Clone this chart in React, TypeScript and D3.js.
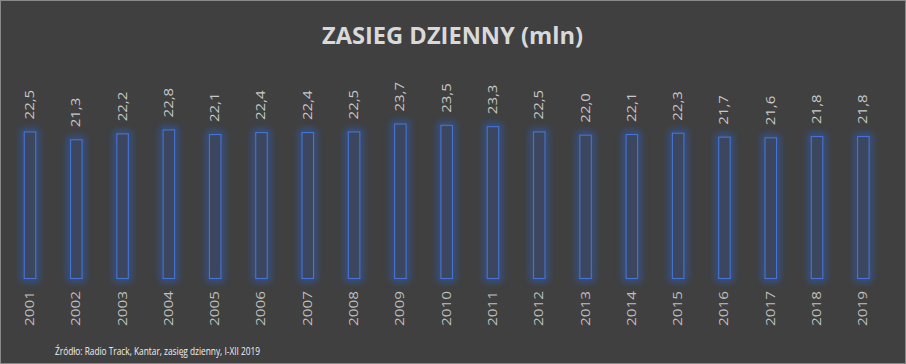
import React from "react";
import * as d3 from "d3";

const years = ["2001","2002","2003","2004","2005","2006","2007","2008","2009","2010","2011","2012","2013","2014","2015","2016","2017","2018","2019"];
const reach = [22.5,21.3,22.2,22.8,22.1,22.4,22.4,22.5,23.7,23.5,23.3,22.5,22.0,22.1,22.3,21.7,21.6,21.8,21.8];
const title = "ZASIEG DZIENNY (mln)";
const source = "Źródło: Radio Track, Kantar, zasięg dzienny, I-XII 2019";

const W = 906, H = 364;
const FONT = "'Open Sans', 'DejaVu Sans', sans-serif";

export default function App() {
  const x = d3.scaleBand<string>().domain(years).range([6.85, 886.5]).paddingInner(0.73).paddingOuter(0.365);
  const y = d3.scaleLinear().domain([0, 25]).range([279, 115]);
  const fmt = (v: number) => d3.format(".1f")(v).replace(".", ",");
  return (
    <svg width={W} height={H} style={{ position: "absolute", left: 0, top: 0 }}>
      <defs>
        <filter id="glow" x="-150%" y="-20%" width="400%" height="140%">
          <feGaussianBlur stdDeviation="3.5" />
        </filter>
      </defs>
      <rect x={0.5} y={0.5} width={W - 1} height={H - 1} fill="#404040" stroke="#8a8a8a" strokeWidth={1} />
      <text x={452.5} y={43.5} textAnchor="middle" fill="#d9d9d9" fontFamily={FONT} fontWeight={700} fontSize={23} textLength={261} lengthAdjust="spacingAndGlyphs">{title}</text>
      {years.map((yr, i) => {
        const bx = x(yr)!;
        const bw = x.bandwidth();
        const top = y(reach[i]);
        const cx = bx + bw / 2;
        return (
          <g key={yr}>
            <rect x={bx} y={top} width={bw} height={y(0) - top} fill="none" stroke="#2a62d0" strokeWidth={5} opacity={0.65} filter="url(#glow)" />
            <rect x={bx + 0.5} y={top + 0.5} width={bw - 1} height={y(0) - top - 1} fill="#3c475f" stroke="#4575d4" strokeWidth={1.1} />
            <text transform={`translate(${cx + 4},${top - 12}) rotate(-90) scale(1,0.85)`} fill="#c8c8c8" fontFamily={FONT} fontSize={15}>{fmt(reach[i])}</text>
            <text transform={`translate(${cx + 4},326) rotate(-90) scale(1,0.85)`} fill="#bfbfbf" fontFamily={FONT} fontSize={15.3}>{yr}</text>
          </g>
        );
      })}
      <text x={55} y={355} fill="#f0f0f0" fontFamily={FONT} fontSize={10} textLength={205} lengthAdjust="spacingAndGlyphs">{source}</text>
    </svg>
  );
}
